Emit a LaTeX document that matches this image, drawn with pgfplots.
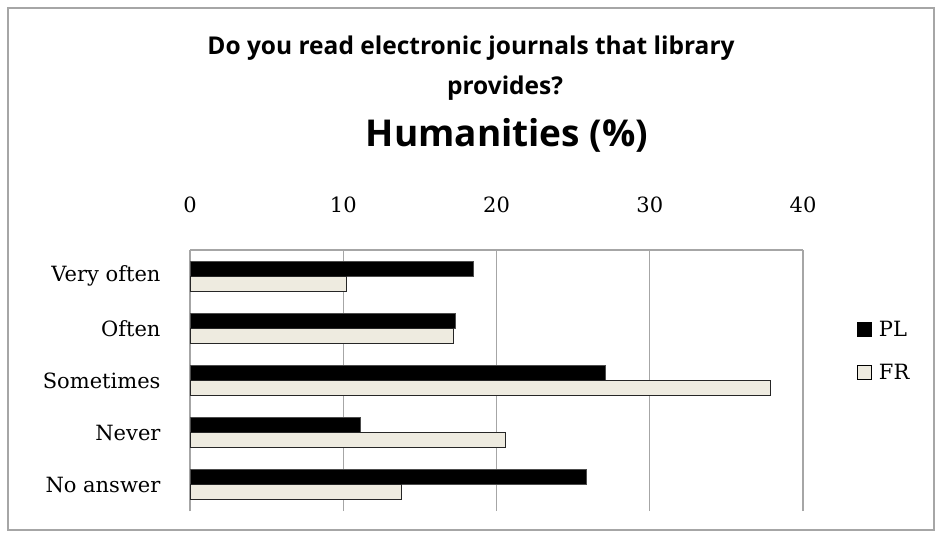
\documentclass[border=0pt]{standalone}
\usepackage{pgfplots}
\pgfplotsset{compat=1.18}
\usepackage{fontspec}
\setmainfont{DejaVu Serif}
\newfontfamily\titlefont{Open Sans}
\definecolor{frfill}{HTML}{EEEBE0}
\definecolor{gridgray}{HTML}{A6A6A6}
\begin{document}
\begin{tikzpicture}
\begin{axis}[
  at={(0,0)}, anchor=south west,
  scale only axis, width=613pt, height=261pt,
  clip=false,
  xbar, bar width=15pt,
  xmin=0, xmax=40,
  ymin=-0.5, ymax=4.5,
  xtick={0,10,20,30,40},
  ytick={0,1,2,3,4},
  yticklabels={No answer,Never,Sometimes,Often,Very often},
  axis x line*=top, axis y line*=left,
  axis line style={gridgray, line width=1.2pt, -},
  xmajorgrids, major grid style={gridgray, line width=1.2pt},
  major tick length=0pt,
  tick label style={font=\fontsize{21}{24}\selectfont},
  /pgf/number format/assume math mode=true,
  xticklabel style={yshift=34pt},
  yticklabel style={xshift=-26pt},
  legend style={at={(rel axis cs:1.088,0.613)}, anchor=west, draw=none, fill=none,
    font=\fontsize{21}{24}\selectfont, row sep=22pt, column sep=5pt, inner sep=0pt},
  legend cell align=left,
  legend image code/.code={\draw[#1, draw=black, line width=0.8pt] (0pt,-7pt) rectangle (14pt,7pt);},
]
\addplot[fill=black, draw=black!70, line width=1pt, bar shift=7.5pt] coordinates {(18.5,4) (17.3,3) (27.1,2) (11.1,1) (25.9,0)};
\addlegendentry{PL}
\addplot[fill=frfill, draw=black!85, line width=1pt, bar shift=-7.5pt] coordinates {(10.2,4) (17.2,3) (37.9,2) (20.6,1) (13.8,0)};
\addlegendentry{FR}
\path (rel axis cs:-0.310,-0.1034) rectangle (rel axis cs:1.2251,1.9579);
\draw[gridgray, line width=1.2pt] (rel axis cs:-0.297,-0.0728) rectangle (rel axis cs:1.2137,1.9272);
\node[font={\titlefont\bfseries\fontsize{24.5}{28}\selectfont}] at (rel axis cs:0.4584,1.7739) {Do you read electronic journals that library};
\node[font={\titlefont\bfseries\fontsize{24.5}{28}\selectfont}] at (rel axis cs:0.5139,1.6207) {provides?};
\node[font={\titlefont\bfseries\fontsize{37}{40}\selectfont}] at (rel axis cs:0.5171,1.4406) {Humanities (\%)};
\end{axis}
\end{tikzpicture}
\end{document}
